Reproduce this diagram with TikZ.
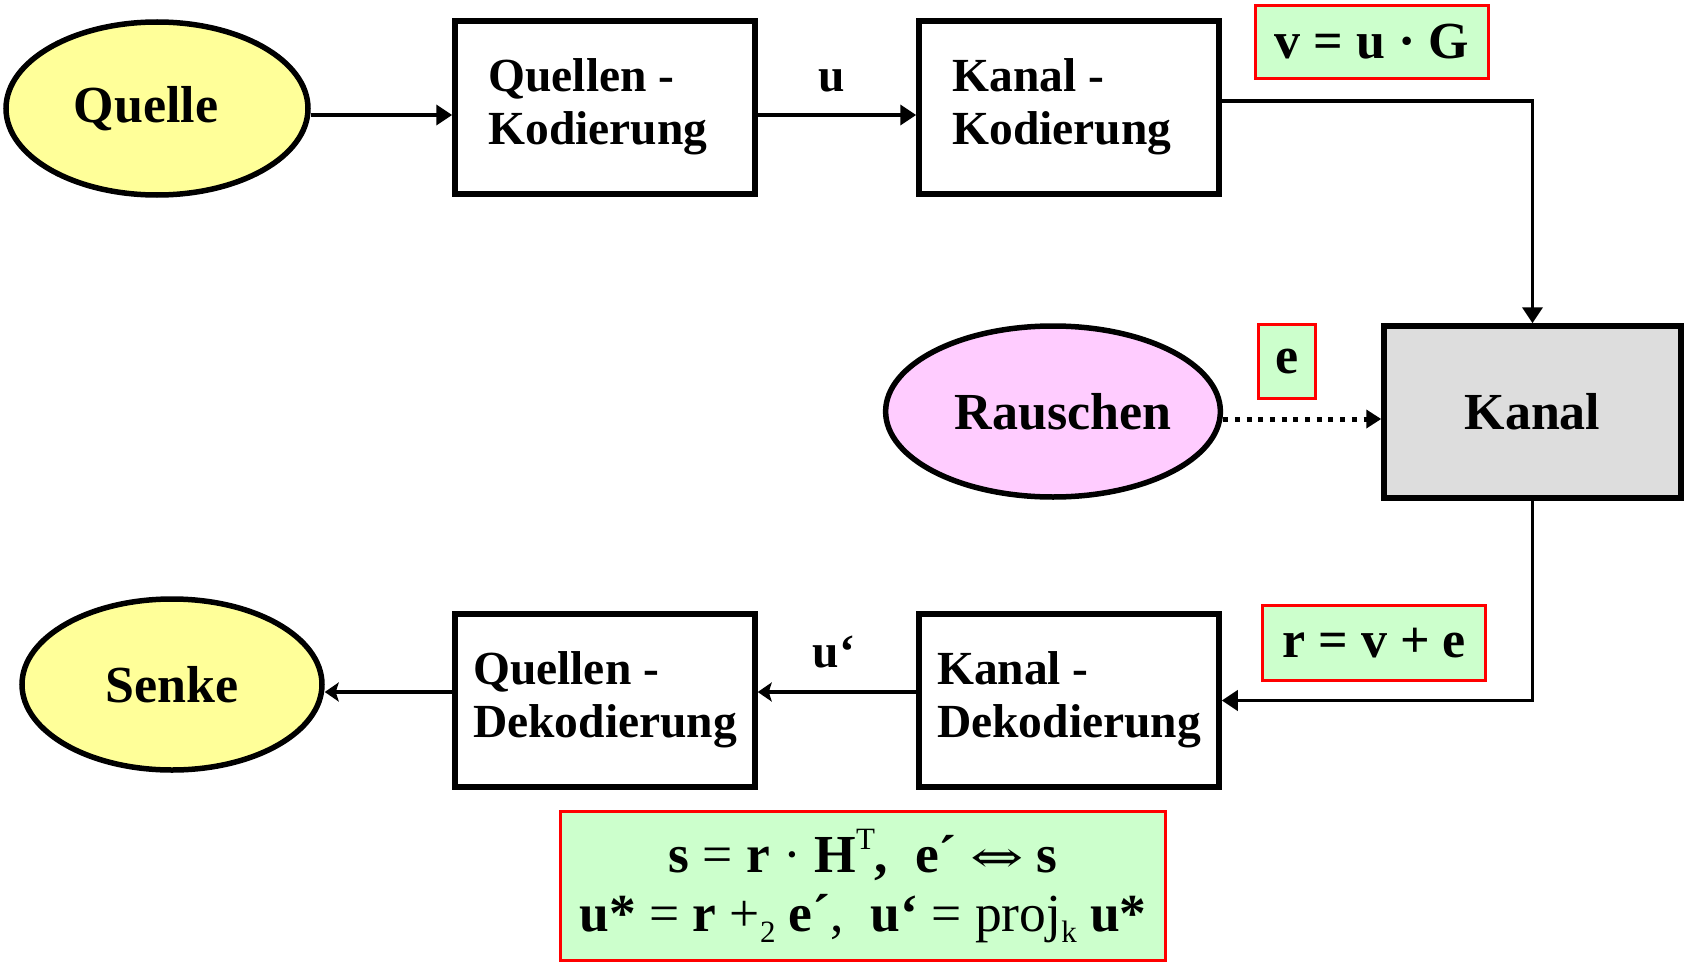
\documentclass[tikz,border=0pt]{standalone}
\usepackage{fontspec}
\setmainfont{Liberation Serif}
\newfontfamily\arrowfont{DejaVu Serif}
\usetikzlibrary{shapes.geometric,arrows.meta}

\definecolor{lemon}{HTML}{FFFF99}
\definecolor{orchid}{HTML}{FFCCFF}
\definecolor{mint}{HTML}{CCFFCC}
\definecolor{panel}{HTML}{DDDDDD}

% small raised / lowered indices in text mode
\newcommand{\upidx}[1]{\raisebox{0.42em}{\fontsize{31}{31}\selectfont\mdseries #1}}
\newcommand{\lowidx}[1]{\raisebox{-0.22em}{\fontsize{31}{31}\selectfont\mdseries #1}}

\begin{document}
\begin{tikzpicture}[x=1pt,y=-1pt,
  every node/.style={inner sep=0pt, font=\bfseries\fontsize{47.5}{53}\selectfont},
  blockbox/.style={draw, rectangle, line width=5.5pt, fill=white, align=left,
    minimum width=300pt, minimum height=173pt},
  oval/.style={draw, ellipse, line width=5.5pt, font=\bfseries\fontsize{52}{58}\selectfont},
  tag/.style={draw=red, rectangle, line width=3pt, fill=mint, align=center,
    font=\bfseries\fontsize{52}{59}\selectfont},
  arr/.style={line width=3.8pt, -{Triangle[length=16pt,width=20pt]}},
  backarr/.style={line width=3.8pt, -{Stealth[length=14pt,width=19pt,inset=3pt]}},
  dotarr/.style={line width=5pt, dash pattern=on 5pt off 6.7pt,
    -{Triangle[length=15pt,width=18pt]}}
]
\useasboundingbox (0,0) rectangle (1686,963);

% encoder chain
\node[oval, fill=lemon, minimum width=302pt, minimum height=173pt] (quelle) at (157,108.5) {Quelle\hspace*{22pt}};
\node[blockbox] (qk) at (605,107.5) {\strut Quellen -\\\strut Kodierung\hspace*{14pt}};
\node[blockbox] (kk) at (1069,107.5) {\strut Kanal -\\\strut Kodierung\hspace*{14pt}};
\node[tag, minimum width=233pt, minimum height=73pt] (vug) at (1372,42) {v = u \textperiodcentered{} G};
\node[anchor=base] (ulab) at (832,92) {u};

% channel and noise
\node[blockbox, fill=panel, align=center, minimum width=297pt, minimum height=172pt,
  font=\bfseries\fontsize{52}{58}\selectfont] (kanal) at (1532.5,412) {Kanal};
\node[oval, fill=orchid, minimum width=332pt, minimum height=171pt] (rauschen) at (1053,411.5) {\hspace*{20pt}Rauschen};
\node[tag, minimum width=57pt, minimum height=74pt] (etag) at (1287,361.5) {e};

% decoder chain
\node[tag, minimum width=223pt, minimum height=75pt] (rtag) at (1374,643) {r = v + e};
\node[blockbox] (kd) at (1069,700.5) {\strut Kanal -\\\strut Dekodierung};
\node[blockbox] (qd) at (605,700.5) {\strut Quellen -\\\strut Dekodierung};
\node[oval, fill=lemon, minimum width=300pt, minimum height=171pt] (senke) at (172,684.5) {Senke};
\node[anchor=base] (uplab) at (834,667) {u‘};

% decoding formulas
\node[tag, minimum width=605pt, minimum height=149pt, font=\mdseries\fontsize{53.5}{59}\selectfont] (formel) at (863,886)
  {\raisebox{-5pt}{\textbf{s} = \textbf{r} · \textbf{H}\upidx{T}\textbf{,}\ \ \textbf{e´}\ {\arrowfont\fontsize{44}{44}\selectfont\scalebox{1.45}[1]{⇔}}\ \textbf{s}}\\
   \raisebox{-5pt}{\textbf{u*} = \textbf{r} +\lowidx{2} \textbf{e´},\ \ \textbf{u‘} = proj\lowidx{k} \textbf{u*}}};

% connectors
\draw[arr] ([yshift=-6.5pt]quelle.east) -- ([yshift=-7.5pt]qk.west);
\draw[arr] ([yshift=-7.5pt]qk.east) -- ([yshift=-7.5pt]kk.west);
\draw[arr] ([yshift=6.5pt]kk.east) -| (kanal.north);
\draw[dotarr] ([yshift=-7.5pt]rauschen.east) -- ([yshift=-7pt]kanal.west);
\draw[arr] (kanal.south) |- (kd.east);
\draw[backarr] ([yshift=8.5pt]kd.west) -- ([yshift=8.5pt]qd.east);
\draw[backarr] ([yshift=8.5pt]qd.west) -- ([yshift=-7.5pt]senke.east);
\end{tikzpicture}
\end{document}
